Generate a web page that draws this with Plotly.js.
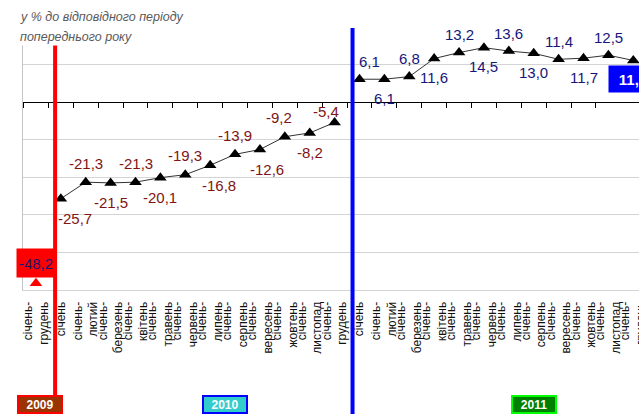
<!DOCTYPE html>
<html>
<head>
<meta charset="utf-8">
<script src="https://cdn.plot.ly/plotly-3.0.1.min.js"></script>
<style>html,body{margin:0;padding:0;background:#fff;}#chart{width:639px;height:414px;}</style>
</head>
<body>
<div id="chart"></div>
<script>
// ---- data ----
const cat2009 = ['січень-грудень'];
const months = ['січень', 'січень-лютий', 'січень-березень', 'січень-квітень', 'січень-травень',
  'січень-червень', 'січень-липень', 'січень-серпень', 'січень-вересень', 'січень-жовтень',
  'січень-листопад', 'січень-грудень'];
const val2009 = [-48.2];
const val2010 = [-25.7, -21.3, -21.5, -21.3, -20.1, -19.3, -16.8, -13.9, -12.6, -9.2, -8.2, -5.4];
const val2011 = [6.1, 6.1, 6.8, 11.6, 13.2, 14.5, 13.6, 13.0, 11.4, 11.7, 12.5, 11.1];
const years = ['2009', '2010', '2011'];
const axisTitle = ['у % до відповідного періоду', 'попереднього року'];

// ---- build ----
const categories = cat2009.concat(months, months);
const idx = categories.map((_, i) => i);
const x2009 = val2009.map((_, i) => i);
const x2010 = val2010.map((_, i) => i + val2009.length);
const x2011 = val2011.map((_, i) => i + val2009.length + val2010.length);
const fmt = v => v.toFixed(1).replace('.', ',');
const FONT = 'Liberation Sans, Arial, sans-serif';
const RED_TXT = '#801414', BLUE_TXT = '#16167a';
const XR = [-0.52, 24.23];

// manual label nudges (layout only), keyed by series index: [xshift, extra yshift]
const nudge2010 = {0: [14, 0], 6: [9, 0], 8: [7, 0], 9: [-6, 0], 11: [-9, -8]};
const nudge2011 = {0: [10, 0]};

const traces = [
  {x: x2009, y: val2009, mode: 'markers', type: 'scatter',
   marker: {symbol: 'triangle-up', size: 11, color: '#ff0000'}, hoverinfo: 'skip'},
  {x: x2010, y: val2010, mode: 'lines+markers', type: 'scatter',
   line: {color: '#333', width: 1}, marker: {symbol: 'triangle-up', size: 11, color: '#000'}, hoverinfo: 'skip'},
  {x: x2011, y: val2011, mode: 'lines+markers', type: 'scatter',
   line: {color: '#333', width: 1}, marker: {symbol: 'triangle-up', size: 11, color: '#000'}, hoverinfo: 'skip'},
  {x: [], y: [], xaxis: 'x2', yaxis: 'y', type: 'scatter', mode: 'markers', showlegend: false}
];

const annotations = [];
val2009.forEach((v, i) => annotations.push({
  x: x2009[i], y: v, xref: 'x', yref: 'y', text: fmt(v), showarrow: false, yshift: 20,
  font: {family: FONT, size: 15, color: BLUE_TXT}, bgcolor: '#ff0000', width: 36, height: 26
}));
val2010.forEach((v, i) => {
  const n = nudge2010[i] || [0, 0];
  annotations.push({
    x: x2010[i], y: v, xref: 'x', yref: 'y', text: fmt(v), showarrow: false,
    xshift: n[0], yshift: ((i % 2 === 0) ? -20 : 19) + n[1],
    font: {family: FONT, size: 15, color: RED_TXT}
  });
});
val2011.forEach((v, i) => {
  const last = i === val2011.length - 1;
  const n = nudge2011[i] || [0, 0];
  const a = {x: x2011[i], y: v, xref: 'x', yref: 'y', text: fmt(v), showarrow: false,
    xshift: n[0], yshift: ((i % 2 === 0) ? 18 : -19) + n[1],
    font: {family: FONT, size: 15, color: BLUE_TXT}};
  if (last) {
    a.text = '<b>' + fmt(v) + '</b>';
    a.font = {family: FONT, size: 15, color: '#ffffff'};
    a.bgcolor = '#0000ff'; a.width = 46; a.height = 24;
  }
  annotations.push(a);
});
const yearStyle = [
  {x: 0.17, bg: '#993300', border: '#ff0000'},
  {x: 7.6, bg: '#33cccc', border: '#0000ff'},
  {x: 20.0, bg: '#008000', border: '#00ff00'}
];
years.forEach((t, i) => annotations.push({
  x: yearStyle[i].x, y: -0.437, xref: 'x', yref: 'paper', yanchor: 'middle', xanchor: 'center',
  text: '<b>' + t + '</b>', showarrow: false,
  font: {family: FONT, size: 12, color: '#ffffff'}, bgcolor: yearStyle[i].bg,
  bordercolor: yearStyle[i].border, borderwidth: 2, width: 42, height: 15, borderpad: 0
}));
axisTitle.forEach((t, i) => annotations.push({
  x: -0.008, y: i === 0 ? 1.038 : 0.962, xref: 'paper', yref: 'paper', xanchor: 'left', yanchor: 'middle',
  text: t, showarrow: false, font: {family: FONT, size: 12.5, color: '#595959', style: 'italic'}
}));

const layout = {
  width: 639, height: 414,
  margin: {l: 23, r: 0, t: 27, b: 124},
  paper_bgcolor: '#ffffff', plot_bgcolor: '#ffffff',
  showlegend: false,
  xaxis: {range: XR, tickvals: idx, ticktext: categories.map(c => c.replace('-', '-<br>')),
    tickangle: -90, tickfont: {family: FONT, size: 12, color: '#111'},
    ticks: '', ticklabelstandoff: 6, ticklabeloverflow: 'allow', showgrid: false, zeroline: false,
    showline: true, linecolor: '#d4d4d4', linewidth: 1, fixedrange: true},
  xaxis2: {range: XR, overlaying: 'x', anchor: 'free', position: 50 / 70, side: 'bottom',
    tickvals: idx.slice(0, -1).map(i => i - 0.5), showticklabels: false,
    ticks: 'outside', ticklen: 5, tickcolor: '#000', tickwidth: 1,
    showgrid: false, zeroline: false, showline: false},
  yaxis: {range: [-50, 20], dtick: 10, showticklabels: false, ticks: '',
    gridcolor: '#d4d4d4', gridwidth: 1, zeroline: true, zerolinecolor: '#000', zerolinewidth: 1,
    showline: true, linecolor: '#c4c4c4', linewidth: 1, fixedrange: true},
  shapes: [
    {type: 'line', xref: 'x', yref: 'paper', x0: 0.77, x1: 0.77, y0: -0.403, y1: 0.99,
     line: {color: '#ff0000', width: 4}, layer: 'above'},
    {type: 'line', xref: 'x', yref: 'paper', x0: 12.72, x1: 12.72, y0: -0.48, y1: 0.996,
     line: {color: '#0000ff', width: 4}, layer: 'above'},
    {type: 'rect', xref: 'paper', yref: 'paper', x0: -0.05, x1: 0.498, y0: 0.93, y1: 1.12,
     fillcolor: '#ffffff', line: {width: 0}, layer: 'above'}
  ],
  annotations: annotations
};

Plotly.newPlot('chart', traces, layout, {displayModeBar: false, staticPlot: true});
</script>
</body>
</html>
